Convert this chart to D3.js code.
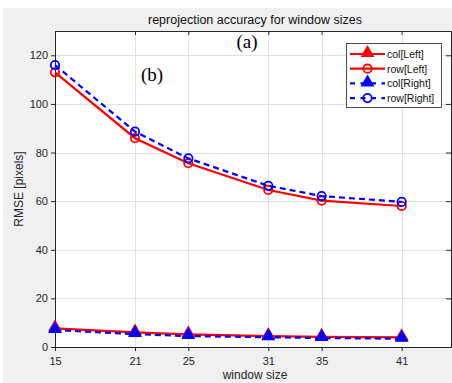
<!DOCTYPE html>
<html>
<head>
<meta charset="utf-8">
<script src="https://cdn.jsdelivr.net/npm/d3@7"></script>
<style>
  body { margin: 0; background: #fff; }
  svg { display: block; font-family: "Liberation Sans", Arial, sans-serif; }
</style>
</head>
<body>
<figure id="chart" style="margin:0"></figure>
<script>
// window sizes on the x axis
const windowSizes = [15, 21, 25, 31, 35, 41];
const yTicks = [0, 20, 40, 60, 80, 100, 120];

// RMSE values
const colLeft = [7.7, 6.0, 5.2, 4.5, 4.2, 4.0];
const rowLeft = [113, 85.9, 75.6, 64.6, 60.2, 58];
const colRight = [7.0, 5.3, 4.5, 4.0, 3.7, 3.4];
const rowRight = [116, 88.6, 77.6, 66.3, 62.1, 59.7];

const seriesNames = ["col[Left]", "row[Left]", "col[Right]", "row[Right]"];

const width = 452;
const height = 383;
const plot = { left: 55, right: 451, top: 31, bottom: 347 };

const series = [
  { name: seriesNames[0], values: colLeft, color: "#ff0000", dash: null, marker: "triangle" },
  { name: seriesNames[1], values: rowLeft, color: "#ff0000", dash: null, marker: "circle" },
  { name: seriesNames[2], values: colRight, color: "#0000ff", dash: "6,4", marker: "triangle" },
  { name: seriesNames[3], values: rowRight, color: "#0000ff", dash: "6,4", marker: "circle" }
];

const svg = d3.select("figure#chart")
  .append("svg")
  .attr("width", width)
  .attr("height", height);

// grey figure background
svg.append("rect")
  .attr("x", 3).attr("y", 8)
  .attr("width", width - 3).attr("height", height - 8)
  .attr("fill", "#f0f0f0");

const x = d3.scaleLinear().domain([15, 44.7]).range([plot.left, plot.right]);
const y = d3.scaleLinear().domain([0, 130]).range([plot.bottom, plot.top]);

// plot area
svg.append("rect")
  .attr("x", plot.left).attr("y", plot.top)
  .attr("width", plot.right - plot.left).attr("height", plot.bottom - plot.top)
  .attr("fill", "#fff");

// grid
const grid = svg.append("g").attr("stroke", "#e2e2e2").attr("stroke-width", 1);
grid.selectAll("line.gx")
  .data(windowSizes)
  .enter()
  .append("line")
  .attr("x1", d => Math.round(x(d)) + 0.5).attr("x2", d => Math.round(x(d)) + 0.5)
  .attr("y1", plot.top).attr("y2", plot.bottom);
grid.selectAll("line.gy")
  .data(yTicks)
  .enter()
  .append("line")
  .attr("y1", d => Math.round(y(d)) + 0.5).attr("y2", d => Math.round(y(d)) + 0.5)
  .attr("x1", plot.left).attr("x2", plot.right);

// axes
const axisColor = "#262626";
const xAxis = svg.append("g")
  .attr("transform", "translate(0," + plot.bottom + ")")
  .call(d3.axisBottom(x).tickValues(windowSizes).tickSize(4).tickPadding(6).tickSizeOuter(0));
const yAxis = svg.append("g")
  .attr("transform", "translate(" + plot.left + ",0)")
  .call(d3.axisLeft(y).tickValues(yTicks).tickSize(4).tickPadding(3).tickSizeOuter(0));
const xTop = svg.append("g")
  .attr("transform", "translate(0," + plot.top + ")")
  .call(d3.axisBottom(x).tickValues(windowSizes).tickSize(4).tickFormat("").tickSizeOuter(0));
const yRight = svg.append("g")
  .attr("transform", "translate(" + plot.right + ",0)")
  .call(d3.axisLeft(y).tickValues(yTicks).tickSize(5).tickFormat("").tickSizeOuter(0));

[xAxis, yAxis, xTop, yRight].forEach(a => {
  a.select(".domain").attr("stroke", axisColor);
  a.selectAll(".tick line").attr("stroke", axisColor);
  a.selectAll(".tick text")
    .attr("fill", axisColor)
    .style("font-size", "11px")
    .style("font-family", "'Liberation Sans', Arial, sans-serif");
});

// lines and markers
const line = d3.line()
  .x((d, i) => x(windowSizes[i]))
  .y(d => y(d));

const tri = d3.symbol().type(d3.symbolTriangle).size(60);

function drawMarker(g, type, color, cx, cy) {
  if (type === "circle") {
    g.append("circle")
      .attr("cx", cx).attr("cy", cy).attr("r", 4.2)
      .attr("fill", "none")
      .attr("stroke", color)
      .attr("stroke-width", 1.8);
  } else {
    g.append("path")
      .attr("d", tri())
      .attr("transform", "translate(" + cx + "," + (cy - 1) + ")")
      .attr("fill", color)
      .attr("stroke", color)
      .attr("stroke-width", 1.2);
  }
}

series.forEach(s => {
  const g = svg.append("g");
  g.append("path")
    .datum(s.values)
    .attr("d", line)
    .attr("fill", "none")
    .attr("stroke", s.color)
    .attr("stroke-width", 2.2)
    .attr("stroke-dasharray", s.dash);
  s.values.forEach((v, i) => drawMarker(g, s.marker, s.color, x(windowSizes[i]), y(v)));
});

// title and labels
svg.append("text")
  .text("reprojection accuracy for window sizes")
  .attr("x", 255).attr("y", 24)
  .attr("text-anchor", "middle")
  .attr("fill", "#111")
  .style("font-size", "12.5px");

svg.append("text")
  .text("window size")
  .attr("x", 255).attr("y", 379)
  .attr("text-anchor", "middle")
  .attr("fill", axisColor)
  .style("font-size", "12px");

svg.append("text")
  .text("RMSE [pixels]")
  .attr("transform", "translate(23," + ((plot.top + plot.bottom) / 2) + ") rotate(-90)")
  .attr("text-anchor", "middle")
  .attr("fill", axisColor)
  .style("font-size", "12px");

// panel marks
svg.append("text")
  .text("(a)")
  .attr("x", 247).attr("y", 48)
  .attr("text-anchor", "middle")
  .style("font-family", "'Liberation Serif', 'Times New Roman', serif")
  .style("font-size", "19px");
svg.append("text")
  .text("(b)")
  .attr("x", 152).attr("y", 81)
  .attr("text-anchor", "middle")
  .style("font-family", "'Liberation Serif', 'Times New Roman', serif")
  .style("font-size", "19px");

// legend
const legend = svg.append("g");
legend.append("rect")
  .attr("x", 346.5).attr("y", 43.5)
  .attr("width", 95).attr("height", 64)
  .attr("fill", "#fff")
  .attr("stroke", axisColor)
  .attr("stroke-width", 0.8);

series.forEach((s, i) => {
  const ly = 54 + i * 14.7;
  legend.append("line")
    .attr("x1", 350).attr("x2", 385)
    .attr("y1", ly).attr("y2", ly)
    .attr("stroke", s.color)
    .attr("stroke-width", 2.2)
    .attr("stroke-dasharray", s.dash ? "5,5.5" : null);
  drawMarker(legend, s.marker, s.color, 367.5, ly);
  legend.append("text")
    .text(s.name)
    .attr("x", 387).attr("y", ly + 4)
    .attr("fill", "#111")
    .style("font-size", "10.5px");
});
</script>
</body>
</html>
